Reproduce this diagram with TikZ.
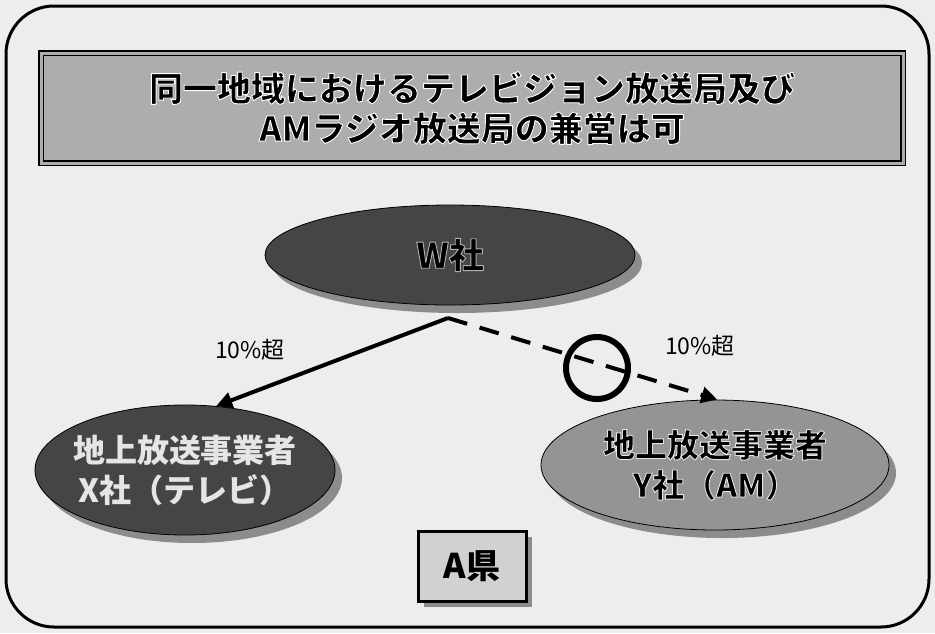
\documentclass[tikz,border=0pt]{standalone}
\usepackage{fontspec}
\newfontfamily\cjk{Noto Sans CJK JP}
\usetikzlibrary{shapes.geometric,shadows,arrows.meta}
\definecolor{bgcol}{gray}{0.93}
\definecolor{titlefill}{gray}{0.68}
\definecolor{darkfill}{gray}{0.27}
\definecolor{midfill}{gray}{0.58}
\definecolor{shadowcol}{gray}{0.55}
\definecolor{boxfill}{gray}{0.82}
% outlined text: #1 = stroke grey level (0..1), #2 = stroke width, #3 = text
\newcommand{\outl}[3]{\special{pdf:literal direct #1 G #2 w 1 j 2 Tr}#3\special{pdf:literal direct 0 Tr}}
\tikzset{
  oval/.style={ellipse, draw=black, line width=0.8pt, inner sep=-16pt, align=center,
    font=\cjk\bfseries\fontsize{32}{40}\selectfont},
  ovalshadow/.style={drop shadow={shadow xshift=7pt, shadow yshift=-8pt, fill=shadowcol, opacity=1}},
  titlebox/.style={draw=black, double=titlefill, double distance=3pt, line width=1.2pt,
    fill=titlefill, align=center, inner sep=0pt,
    font=\cjk\bfseries\fontsize{34}{40}\selectfont},
  prefbox/.style={draw=black, line width=3pt, fill=boxfill, inner sep=0pt,
    minimum width=108pt, minimum height=70pt, font=\cjk\bfseries\fontsize{34}{40}\selectfont,
    drop shadow={shadow xshift=6pt, shadow yshift=-6pt, fill=shadowcol, opacity=1}},
  pct/.style={font=\cjk\fontsize{23}{26}\selectfont},
  link/.style={line width=4pt, -{Triangle[length=16pt,width=16pt]}},
  dashlink/.style={link, dash pattern=on 20pt off 13pt},
  mark circle/.style={circle, draw=black, line width=6pt, minimum size=62pt, inner sep=0pt},
}
\begin{document}
\begin{tikzpicture}[x=1pt,y=-1pt]
\useasboundingbox (0,0) rectangle (935,633);
\fill[bgcol] (0,0) rectangle (935,633);
\draw[line width=3pt, rounded corners=48pt] (6,6) rectangle (929,627);

% title
\node[titlebox, minimum width=862pt, minimum height=110pt] (title) at (472,108)
  {\outl{1}{0.9}{同一地域におけるテレビジョン放送局及び}\\\outl{1}{0.9}{AMラジオ放送局の兼営は可}};

% ellipses
\node[oval, ovalshadow, fill=darkfill, minimum width=370pt, minimum height=100pt,
  font=\cjk\bfseries\fontsize{35}{40}\selectfont, text=black] (W) at (450,255) {\outl{0.7}{0.9}{W社}};

\node[oval, ovalshadow, fill=darkfill, minimum width=300pt, minimum height=130pt,
  text=gray!20] (X) at (185,470) {地上放送事業者\\X社（テレビ）};

\node[oval, ovalshadow, fill=midfill, minimum width=348pt, minimum height=130pt,
  text=black] (Y) at (715,465) {\outl{0.9}{0.9}{地上放送事業者}\\\outl{0.9}{0.9}{Y社（AM）}};

% prefecture box
\node[prefbox] (A) at (472,566) {A県};

% connectors
\coordinate (Wbot) at (448,318);
\draw[link] (Wbot) -- (X.64);
\draw[dashlink] (Wbot) -- (Y.88);
\node[pct] (p1) at (250,350) {10\%超};
\node[pct] (p2) at (700,346) {10\%超};
\node[mark circle] (ok) at (597,368) {};
\end{tikzpicture}
\end{document}
